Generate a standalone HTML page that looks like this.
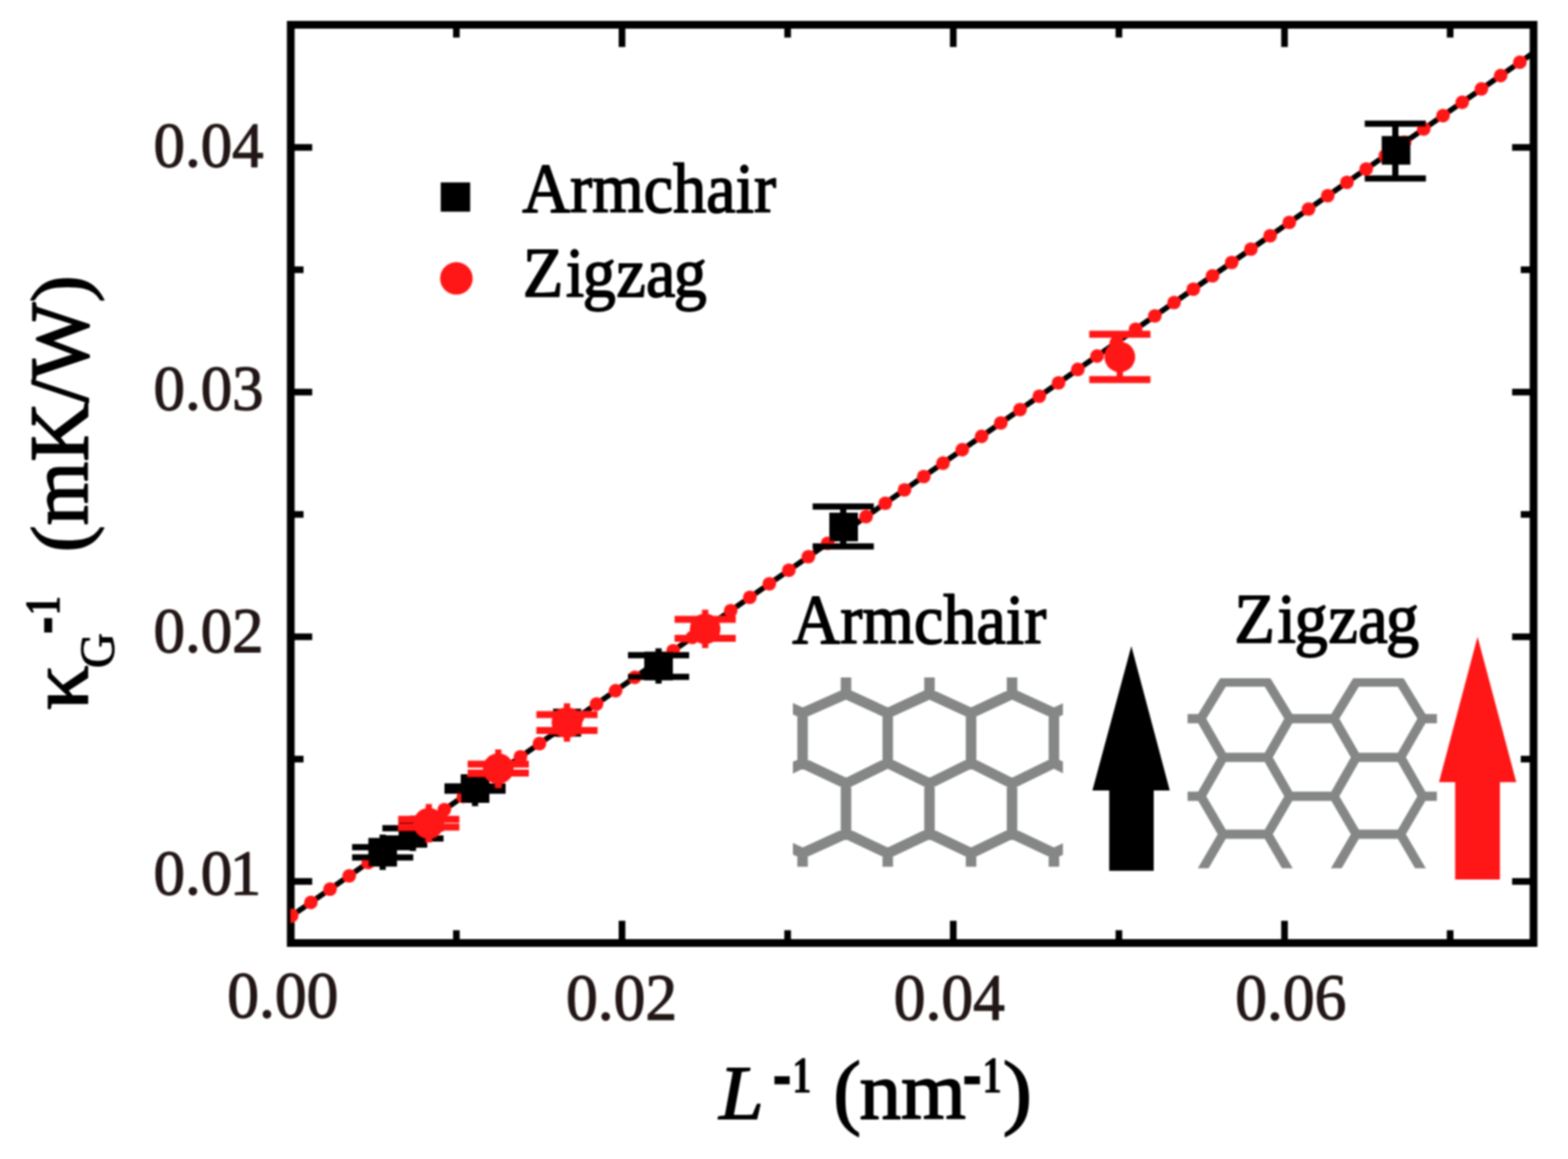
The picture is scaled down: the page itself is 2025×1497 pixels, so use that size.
<!DOCTYPE html>
<html lang="en"><head><meta charset="utf-8"><title>Inverse thermal conductivity versus inverse length</title>
<style>html,body{margin:0;padding:0;background:#fff}body{width:2025px;height:1497px}svg{display:block}text{font-family:"Liberation Serif","DejaVu Serif",serif;white-space:pre}</style></head><body>
<svg width="2025" height="1497" viewBox="0 0 2025 1497">
<defs>
<clipPath id="plot"><rect x="375.5" y="32" width="1605" height="1186"/></clipPath>
<clipPath id="ca"><rect x="1024" y="875" width="348.7" height="244.5"/></clipPath>
<clipPath id="cz"><rect x="1533.7" y="876" width="322" height="245.5"/></clipPath>
<filter id="soft" x="-2%" y="-2%" width="104%" height="104%"><feGaussianBlur stdDeviation="1.3"/></filter>
</defs>
<rect width="2025" height="1497" fill="#fff"/>
<g filter="url(#soft)">
<g stroke="#000" stroke-width="8.6" stroke-linecap="butt">
<line x1="803.3" y1="1218" x2="803.3" y2="1189.3"/>
<line x1="803.3" y1="32" x2="803.3" y2="60.7"/>
<line x1="1231.1" y1="1218" x2="1231.1" y2="1189.3"/>
<line x1="1231.1" y1="32" x2="1231.1" y2="60.7"/>
<line x1="1658.9" y1="1218" x2="1658.9" y2="1189.3"/>
<line x1="1658.9" y1="32" x2="1658.9" y2="60.7"/>
<line x1="589.4" y1="1218" x2="589.4" y2="1201.5"/>
<line x1="589.4" y1="32" x2="589.4" y2="48.5"/>
<line x1="1017.2" y1="1218" x2="1017.2" y2="1201.5"/>
<line x1="1017.2" y1="32" x2="1017.2" y2="48.5"/>
<line x1="1445" y1="1218" x2="1445" y2="1201.5"/>
<line x1="1445" y1="32" x2="1445" y2="48.5"/>
<line x1="1872.8" y1="1218" x2="1872.8" y2="1201.5"/>
<line x1="1872.8" y1="32" x2="1872.8" y2="48.5"/>
<line x1="375.5" y1="1138.5" x2="403.2" y2="1138.5"/>
<line x1="1980.5" y1="1138.5" x2="1952.8" y2="1138.5"/>
<line x1="375.5" y1="822.47" x2="403.2" y2="822.47"/>
<line x1="1980.5" y1="822.47" x2="1952.8" y2="822.47"/>
<line x1="375.5" y1="506.44" x2="403.2" y2="506.44"/>
<line x1="1980.5" y1="506.44" x2="1952.8" y2="506.44"/>
<line x1="375.5" y1="190.41" x2="403.2" y2="190.41"/>
<line x1="1980.5" y1="190.41" x2="1952.8" y2="190.41"/>
<line x1="375.5" y1="980.49" x2="392" y2="980.49"/>
<line x1="1980.5" y1="980.49" x2="1964" y2="980.49"/>
<line x1="375.5" y1="664.45" x2="392" y2="664.45"/>
<line x1="1980.5" y1="664.45" x2="1964" y2="664.45"/>
<line x1="375.5" y1="348.42" x2="392" y2="348.42"/>
<line x1="1980.5" y1="348.42" x2="1964" y2="348.42"/>
</g>
<rect x="375.5" y="32" width="1605" height="1186" fill="none" stroke="#000" stroke-width="10.0"/>
<g clip-path="url(#plot)">
<line x1="375.5" y1="1183.69" x2="1980.5" y2="68.08" stroke="#000" stroke-width="7.0"/>
<g fill="#ff1614"><circle cx="376.7" cy="1182.85" r="8.8"/><circle cx="401.47" cy="1165.64" r="8.8"/><circle cx="426.23" cy="1148.42" r="8.8"/><circle cx="451" cy="1131.21" r="8.8"/><circle cx="475.57" cy="1114.13" r="8.8"/><circle cx="500.14" cy="1097.05" r="8.8"/><circle cx="524.71" cy="1079.97" r="8.8"/><circle cx="549.29" cy="1062.89" r="8.8"/><circle cx="573.86" cy="1045.81" r="8.8"/><circle cx="598.43" cy="1028.73" r="8.8"/><circle cx="623" cy="1011.66" r="8.8"/><circle cx="647.57" cy="994.58" r="8.8"/><circle cx="672.14" cy="977.5" r="8.8"/><circle cx="696.71" cy="960.42" r="8.8"/><circle cx="721.29" cy="943.34" r="8.8"/><circle cx="745.86" cy="926.26" r="8.8"/><circle cx="770.43" cy="909.18" r="8.8"/><circle cx="795" cy="892.1" r="8.8"/><circle cx="819.77" cy="874.88" r="8.8"/><circle cx="844.54" cy="857.67" r="8.8"/><circle cx="869.31" cy="840.45" r="8.8"/><circle cx="894.09" cy="823.23" r="8.8"/><circle cx="918.86" cy="806.01" r="8.8"/><circle cx="943.63" cy="788.79" r="8.8"/><circle cx="968.4" cy="771.57" r="8.8"/><circle cx="993.6" cy="754.06" r="8.8"/><circle cx="1018.8" cy="736.54" r="8.8"/><circle cx="1044" cy="719.03" r="8.8"/><circle cx="1068.83" cy="701.77" r="8.8"/><circle cx="1093.67" cy="684.5" r="8.8"/><circle cx="1118.5" cy="667.24" r="8.8"/><circle cx="1143.33" cy="649.98" r="8.8"/><circle cx="1168.17" cy="632.72" r="8.8"/><circle cx="1193" cy="615.46" r="8.8"/><circle cx="1217.87" cy="598.17" r="8.8"/><circle cx="1242.74" cy="580.89" r="8.8"/><circle cx="1267.61" cy="563.6" r="8.8"/><circle cx="1292.48" cy="546.32" r="8.8"/><circle cx="1317.35" cy="529.03" r="8.8"/><circle cx="1342.22" cy="511.74" r="8.8"/><circle cx="1367.08" cy="494.46" r="8.8"/><circle cx="1391.95" cy="477.17" r="8.8"/><circle cx="1416.82" cy="459.88" r="8.8"/><circle cx="1441.69" cy="442.6" r="8.8"/><circle cx="1466.56" cy="425.31" r="8.8"/><circle cx="1491.43" cy="408.03" r="8.8"/><circle cx="1516.3" cy="390.74" r="8.8"/><circle cx="1541.11" cy="373.5" r="8.8"/><circle cx="1565.91" cy="356.26" r="8.8"/><circle cx="1590.72" cy="339.01" r="8.8"/><circle cx="1615.52" cy="321.77" r="8.8"/><circle cx="1640.33" cy="304.53" r="8.8"/><circle cx="1665.13" cy="287.29" r="8.8"/><circle cx="1689.94" cy="270.05" r="8.8"/><circle cx="1714.74" cy="252.81" r="8.8"/><circle cx="1739.55" cy="235.56" r="8.8"/><circle cx="1764.36" cy="218.32" r="8.8"/><circle cx="1789.16" cy="201.08" r="8.8"/><circle cx="1813.97" cy="183.84" r="8.8"/><circle cx="1838.77" cy="166.6" r="8.8"/><circle cx="1863.58" cy="149.35" r="8.8"/><circle cx="1888.38" cy="132.11" r="8.8"/><circle cx="1913.19" cy="114.87" r="8.8"/><circle cx="1937.99" cy="97.63" r="8.8"/><circle cx="1962.8" cy="80.39" r="8.8"/></g>
</g>
<g id="armchair-data">
<g stroke="#000" stroke-width="8.0" stroke-linecap="butt" fill="none"><line x1="1802" y1="159.85" x2="1802" y2="230.55" stroke-width="8.0"/><line x1="1762.5" y1="159.85" x2="1841.5" y2="159.85" /><line x1="1762.5" y1="230.55" x2="1841.5" y2="230.55"/></g>
<rect x="1784.4" y="175.7" width="37" height="37" fill="#000"/>
<g stroke="#000" stroke-width="8.0" stroke-linecap="butt" fill="none"><line x1="1089" y1="654.3" x2="1089" y2="705.7" stroke-width="8.0"/><line x1="1049.5" y1="654.3" x2="1128.5" y2="654.3" /><line x1="1049.5" y1="705.7" x2="1128.5" y2="705.7"/></g>
<rect x="1071" y="662.2" width="37" height="37" fill="#000"/>
<g stroke="#000" stroke-width="8.0" stroke-linecap="butt" fill="none"><line x1="850.5" y1="837.4" x2="850.5" y2="883" stroke-width="8.0"/><line x1="811" y1="846.2" x2="890" y2="846.2" /><line x1="811" y1="874.2" x2="890" y2="874.2"/></g>
<rect x="832" y="841.7" width="37" height="37" fill="#000"/>
<g stroke="#000" stroke-width="8.0" stroke-linecap="butt" fill="none"><line x1="613.5" y1="995.7" x2="613.5" y2="1041.3" stroke-width="8.0"/><line x1="574" y1="1015.65" x2="653" y2="1015.65" /><line x1="574" y1="1021.35" x2="653" y2="1021.35"/></g>
<rect x="595" y="1000" width="37" height="37" fill="#000"/>
<g stroke="#000" stroke-width="8.0" stroke-linecap="butt" fill="none"><line x1="533.3" y1="1053.6" x2="533.3" y2="1099.2" stroke-width="8.0"/><line x1="493.8" y1="1069.8" x2="572.8" y2="1069.8" /><line x1="493.8" y1="1083" x2="572.8" y2="1083"/></g>
<rect x="514.8" y="1057.9" width="37" height="37" fill="#000"/>
<g stroke="#000" stroke-width="8.0" stroke-linecap="butt" fill="none"><line x1="494.2" y1="1078" x2="494.2" y2="1123.6" stroke-width="8.0"/><line x1="454.7" y1="1094.2" x2="533.7" y2="1094.2" /><line x1="454.7" y1="1107.4" x2="533.7" y2="1107.4"/></g>
<rect x="475.7" y="1082.3" width="37" height="37" fill="#000"/>
<rect x="714.2" y="915.4" width="36.4" height="36" fill="#000"/>
</g>
<g id="zigzag-data">
<g stroke="#ff1614" stroke-width="9.0" stroke-linecap="butt" fill="none"><line x1="1446.2" y1="431.8" x2="1446.2" y2="490.2" stroke-width="8.0"/><line x1="1406.7" y1="431.8" x2="1485.7" y2="431.8" /><line x1="1406.7" y1="490.2" x2="1485.7" y2="490.2"/></g>
<circle cx="1446.2" cy="461" r="19.8" fill="#ff1614"/>
<g stroke="#ff1614" stroke-width="9.0" stroke-linecap="butt" fill="none"><line x1="910.7" y1="787.5" x2="910.7" y2="837.1" stroke-width="8.0"/><line x1="871.2" y1="800" x2="950.2" y2="800" /><line x1="871.2" y1="824.6" x2="950.2" y2="824.6"/></g>
<circle cx="910.7" cy="812.3" r="19.8" fill="#ff1614"/>
<g stroke="#ff1614" stroke-width="9.0" stroke-linecap="butt" fill="none"><line x1="732.2" y1="908.4" x2="732.2" y2="958" stroke-width="8.0"/><line x1="692.7" y1="923" x2="771.7" y2="923" /><line x1="692.7" y1="943.4" x2="771.7" y2="943.4"/></g>
<circle cx="732.2" cy="933.2" r="19.8" fill="#ff1614"/>
<g stroke="#ff1614" stroke-width="9.0" stroke-linecap="butt" fill="none"><line x1="643.5" y1="968" x2="643.5" y2="1017.6" stroke-width="8.0"/><line x1="604" y1="987.1" x2="683" y2="987.1" /><line x1="604" y1="998.5" x2="683" y2="998.5"/></g>
<circle cx="643.5" cy="992.8" r="19.8" fill="#ff1614"/>
<g stroke="#ff1614" stroke-width="9.0" stroke-linecap="butt" fill="none"><line x1="553.8" y1="1038.5" x2="553.8" y2="1088.1" stroke-width="8.0"/><line x1="514.3" y1="1058.3" x2="593.3" y2="1058.3" /><line x1="514.3" y1="1068.3" x2="593.3" y2="1068.3"/></g>
<circle cx="553.8" cy="1063.3" r="19.8" fill="#ff1614"/>
</g>
<g clip-path="url(#ca)"><path d="M982.4 831.9L982.4 896.3 M982.4 896.3L928.3 921.1 M982.4 896.3L1036.5 921.1 M982.4 1012L928.3 985.5 M982.4 1012L1036.5 985.5 M982.4 1012L982.4 1076.5 M982.4 1076.5L928.3 1102.1 M982.4 1076.5L1036.5 1102.1 M1036.5 921.1L1036.5 985.5 M1036.5 1102.1L1036.5 1166.5 M1092.6 831.9L1092.6 896.3 M1092.6 896.3L1036.5 921.1 M1092.6 896.3L1146.5 921.1 M1092.6 1012L1036.5 985.5 M1092.6 1012L1146.5 985.5 M1092.6 1012L1092.6 1076.5 M1092.6 1076.5L1036.5 1102.1 M1092.6 1076.5L1146.5 1102.1 M1146.5 921.1L1146.5 985.5 M1146.5 1102.1L1146.5 1166.5 M1200.4 831.9L1200.4 896.3 M1200.4 896.3L1146.5 921.1 M1200.4 896.3L1254.1 921.1 M1200.4 1012L1146.5 985.5 M1200.4 1012L1254.1 985.5 M1200.4 1012L1200.4 1076.5 M1200.4 1076.5L1146.5 1102.1 M1200.4 1076.5L1254.1 1102.1 M1254.1 921.1L1254.1 985.5 M1254.1 1102.1L1254.1 1166.5 M1307 831.9L1307 896.3 M1307 896.3L1254.1 921.1 M1307 896.3L1361.1 921.1 M1307 1012L1254.1 985.5 M1307 1012L1361.1 985.5 M1307 1012L1307 1076.5 M1307 1076.5L1254.1 1102.1 M1307 1076.5L1361.1 1102.1 M1361.1 921.1L1361.1 985.5 M1361.1 1102.1L1361.1 1166.5 M1415.2 831.9L1415.2 896.3 M1415.2 896.3L1361.1 921.1 M1415.2 896.3L1469.3 921.1 M1415.2 1012L1361.1 985.5 M1415.2 1012L1469.3 985.5 M1415.2 1012L1415.2 1076.5 M1415.2 1076.5L1361.1 1102.1 M1415.2 1076.5L1469.3 1102.1" fill="none" stroke="#858787" stroke-width="13.6" stroke-linecap="round" stroke-linejoin="round"/></g>
<g clip-path="url(#cz)"><path d="M1407.65 881.1L1464.95 881.1 M1407.65 881.1L1379 928.2 M1464.95 881.1L1493.6 928.2 M1407.65 978.3L1464.95 978.3 M1407.65 978.3L1379 1028.4 M1464.95 978.3L1493.6 1028.4 M1407.65 978.3L1379 928.2 M1464.95 978.3L1493.6 928.2 M1407.65 1077.5L1464.95 1077.5 M1407.65 1077.5L1379 1126.6 M1464.95 1077.5L1493.6 1126.6 M1407.65 1077.5L1379 1028.4 M1464.95 1077.5L1493.6 1028.4 M1493.6 928.2L1550.9 928.2 M1493.6 1028.4L1550.9 1028.4 M1579.55 881.1L1636.85 881.1 M1579.55 881.1L1550.9 928.2 M1636.85 881.1L1665.5 928.2 M1579.55 978.3L1636.85 978.3 M1579.55 978.3L1550.9 1028.4 M1636.85 978.3L1665.5 1028.4 M1579.55 978.3L1550.9 928.2 M1636.85 978.3L1665.5 928.2 M1579.55 1077.5L1636.85 1077.5 M1579.55 1077.5L1550.9 1126.6 M1636.85 1077.5L1665.5 1126.6 M1579.55 1077.5L1550.9 1028.4 M1636.85 1077.5L1665.5 1028.4 M1665.5 928.2L1722.8 928.2 M1665.5 1028.4L1722.8 1028.4 M1751.45 881.1L1808.75 881.1 M1751.45 881.1L1722.8 928.2 M1808.75 881.1L1837.4 928.2 M1751.45 978.3L1808.75 978.3 M1751.45 978.3L1722.8 1028.4 M1808.75 978.3L1837.4 1028.4 M1751.45 978.3L1722.8 928.2 M1808.75 978.3L1837.4 928.2 M1751.45 1077.5L1808.75 1077.5 M1751.45 1077.5L1722.8 1126.6 M1808.75 1077.5L1837.4 1126.6 M1751.45 1077.5L1722.8 1028.4 M1808.75 1077.5L1837.4 1028.4 M1837.4 928.2L1894.7 928.2 M1837.4 1028.4L1894.7 1028.4 M1923.35 881.1L1980.65 881.1 M1923.35 881.1L1894.7 928.2 M1980.65 881.1L2009.3 928.2 M1923.35 978.3L1980.65 978.3 M1923.35 978.3L1894.7 1028.4 M1980.65 978.3L2009.3 1028.4 M1923.35 978.3L1894.7 928.2 M1980.65 978.3L2009.3 928.2 M1923.35 1077.5L1980.65 1077.5 M1923.35 1077.5L1894.7 1126.6 M1980.65 1077.5L2009.3 1126.6 M1923.35 1077.5L1894.7 1028.4 M1980.65 1077.5L2009.3 1028.4 M2009.3 928.2L2066.6 928.2 M2009.3 1028.4L2066.6 1028.4" fill="none" stroke="#858787" stroke-width="12.0" stroke-linecap="round" stroke-linejoin="round"/></g>
<polygon points="1461.1,834.4 1510.7,1021 1490,1021 1490,1124.8 1432.5,1124.8 1432.5,1021 1410.8,1021" fill="#000"/>
<polygon points="1908.2,822.5 1958.2,1010.2 1937.1,1010.2 1937.1,1136 1879.3,1136 1879.3,1010.2 1858.4,1010.2" fill="#ff1614"/>
<rect x="569.2" y="235.6" width="38" height="37.8" fill="#000"/>
<circle cx="589.4" cy="359.6" r="21" fill="#ff1614"/>
<text transform="translate(198.25 215.4) scale(0.8130 0.8350)" font-size="100" fill="#231815" stroke="#231815" stroke-width="1.8" stroke-linejoin="round">0.04</text>
<text transform="translate(198.25 528.9) scale(0.8130 0.8350)" font-size="100" fill="#231815" stroke="#231815" stroke-width="1.8" stroke-linejoin="round">0.03</text>
<text transform="translate(198.25 841.8) scale(0.8130 0.8350)" font-size="100" fill="#231815" stroke="#231815" stroke-width="1.8" stroke-linejoin="round">0.02</text>
<text transform="translate(198.25 1154.8) scale(0.8130 0.8350)" dx="0 0 0 -4" font-size="100" fill="#231815" stroke="#231815" stroke-width="1.8" stroke-linejoin="round">0.01</text>
<text transform="translate(293.45 1313.6) scale(0.8200 0.8550)" font-size="100" fill="#231815" stroke="#231815" stroke-width="1.8" stroke-linejoin="round">0.00</text>
<text transform="translate(731.07 1317.3) scale(0.8200 0.8550)" font-size="100" fill="#231815" stroke="#231815" stroke-width="1.8" stroke-linejoin="round">0.02</text>
<text transform="translate(1154.22 1317.3) scale(0.8200 0.8550)" font-size="100" fill="#231815" stroke="#231815" stroke-width="1.8" stroke-linejoin="round">0.04</text>
<text transform="translate(1595.24 1317.3) scale(0.8200 0.8550)" font-size="100" fill="#231815" stroke="#231815" stroke-width="1.8" stroke-linejoin="round">0.06</text>
<text transform="translate(928.63 1444.5) scale(1.0350 0.9920)" font-size="100" fill="#050000" stroke="#050000" stroke-width="1.8" stroke-linejoin="round" font-style="italic">L</text>
<text transform="translate(997.48 1426.3) scale(0.7500 1.3000)" font-size="100" fill="#050000" stroke="#050000" stroke-width="0.6" stroke-linejoin="round">-</text>
<text transform="translate(1023 1410.7) scale(0.5000 0.6800)" font-size="100" fill="#050000" stroke="#050000" stroke-width="0.6" stroke-linejoin="round" font-weight="bold">1</text>
<text transform="translate(1076.12 1444.5) scale(1.0840 1.0730)" font-size="100" fill="#050000" stroke="#050000" stroke-width="1.6" stroke-linejoin="round">(</text>
<text transform="translate(1110.01 1444.5) scale(1.0750 1.0550)" font-size="100" fill="#050000" stroke="#050000" stroke-width="2" stroke-linejoin="round">nm</text>
<text transform="translate(1243.08 1426) scale(0.7500 1.3000)" font-size="100" fill="#050000" stroke="#050000" stroke-width="0.6" stroke-linejoin="round">-</text>
<text transform="translate(1268.7 1410.7) scale(0.5000 0.6800)" font-size="100" fill="#050000" stroke="#050000" stroke-width="0.6" stroke-linejoin="round" font-weight="bold">1</text>
<text transform="translate(1294.65 1444.5) scale(1.1500 1.0730)" font-size="100" fill="#050000" stroke="#050000" stroke-width="1.6" stroke-linejoin="round">)</text>
<text transform="translate(112 713.46) rotate(-90) scale(1.0570 1.0400)" font-size="100" fill="#050000" stroke="#050000" stroke-width="1.6" stroke-linejoin="round">(</text>
<text transform="translate(113.4 678.51) rotate(-90) scale(1.0570 1.0800)" font-size="100" fill="#050000" stroke="#050000" stroke-width="2" stroke-linejoin="round">mK/W</text>
<text transform="translate(112 390.67) rotate(-90) scale(1.0570 1.0400)" font-size="100" fill="#050000" stroke="#050000" stroke-width="1.6" stroke-linejoin="round">)</text>
<text transform="translate(112.5 917.2) rotate(-90) scale(1.1510 1.1000)" font-size="100" fill="#050000" stroke="#050000" stroke-width="1.6" stroke-linejoin="round">κ</text>
<text transform="translate(146.6 863.12) rotate(-90) scale(0.6300 0.6400)" font-size="100" fill="#050000" stroke="#050000" stroke-width="1.8" stroke-linejoin="round">G</text>
<text transform="translate(93.3 819.45) rotate(-90) scale(0.7000 1.3000)" font-size="100" fill="#050000" stroke="#050000" stroke-width="0.6" stroke-linejoin="round">-</text>
<text transform="translate(77.3 794.94) rotate(-90) scale(0.5050 0.6600)" font-size="100" fill="#050000" stroke="#050000" stroke-width="0.6" stroke-linejoin="round" font-weight="bold">1</text>
<text transform="translate(674.44 274) scale(0.8560 0.9150)" font-size="100" fill="#050000" stroke="#050000" stroke-width="2.2" stroke-linejoin="round">Armchair</text>
<text transform="translate(675.33 383.3) scale(0.8550 0.9050)" dx="0 3.7 -2.3 0.9 0.4 -2.7" font-size="100" fill="#050000" stroke="#050000" stroke-width="2.2" stroke-linejoin="round">Zigzag</text>
<text transform="translate(1023.34 831.1) scale(0.8560 0.9150)" font-size="100" fill="#050000" stroke="#050000" stroke-width="2.2" stroke-linejoin="round">Armchair</text>
<text transform="translate(1594 829.8) scale(0.8600 0.9050)" dx="0 3.7 -2.3 0.9 0.4 -2.7" font-size="100" fill="#050000" stroke="#050000" stroke-width="2.2" stroke-linejoin="round">Zigzag</text>
</g>
</svg></body></html>
